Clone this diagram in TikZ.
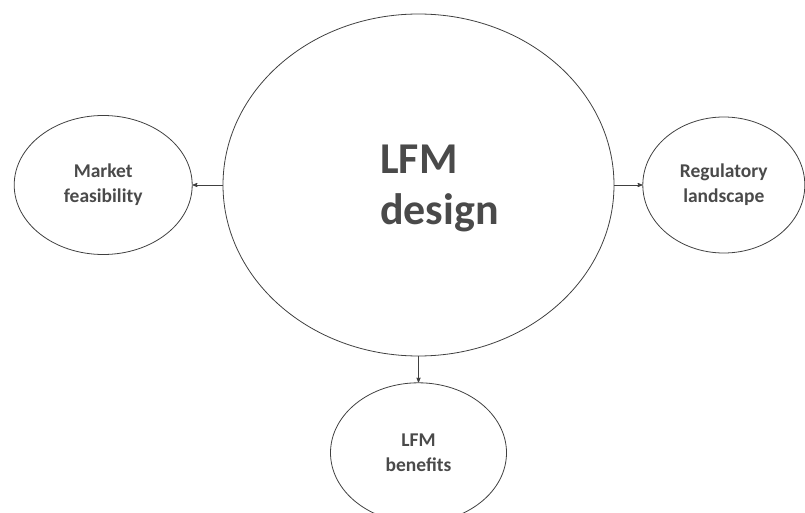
\documentclass[tikz,border=0pt]{standalone}
\usepackage{fontspec}
\setmainfont{Carlito}
\usetikzlibrary{shapes.geometric, positioning, arrows}
\definecolor{inkgray}{HTML}{404040}
\definecolor{txtgray}{HTML}{4A4A4A}
\tikzset{
>=stealth', % small solid arrow heads
node distance=27pt, % gap between the big circle and the side ellipses
topic/.style={ellipse, draw=inkgray, line width=0.8pt, inner sep=0pt, align=center, text=txtgray, font=\fontsize{19.5}{25}\selectfont\bfseries}, % the three outer ellipses
link/.style={->, draw=inkgray, line width=0.8pt}, % connectors
}

\begin{document}
\begin{tikzpicture}[x=1pt, y=-1pt]
                \useasboundingbox (0,0) rectangle (805,513);
                \node[topic, minimum width=391pt, minimum height=342pt] (core) at (418.5,185) {};
                \node[align=left, text=txtgray, font=\fontsize{44}{51}\selectfont\bfseries] (coretext) at ([xshift=21pt, yshift=-3.5pt]core.center) {LFM\\design};
                \node[topic, minimum width=178pt, minimum height=139pt, left=30pt of core] (market) {Market\\feasibility};
                \node[topic, minimum width=162pt, minimum height=136pt, right=28pt of core] (rules) {Regulatory\\landscape};
                \node[topic, minimum width=176pt, minimum height=140pt, below=26pt of core] (benefits) {LFM\\benefits};

                \draw[link] (core) -- (market);
                \draw[link] (core) -- (rules);
                \draw[link] (core) -- (benefits);
\end{tikzpicture}
\end{document}
